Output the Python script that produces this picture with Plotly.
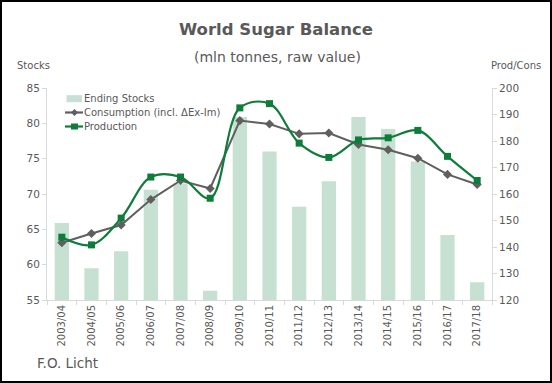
import plotly.graph_objects as go

seasons = ["2003/04", "2004/05", "2005/06", "2006/07", "2007/08", "2008/09", "2009/10",
           "2010/11", "2011/12", "2012/13", "2013/14", "2014/15", "2015/16", "2016/17", "2017/18"]
ending_stocks = [65.9, 59.5, 61.9, 70.6, 71.5, 56.3, 80.9, 76.0, 68.2, 71.8, 80.9, 79.2, 74.6, 64.2, 57.5]
consumption = [141.6, 145.1, 148.3, 157.9, 165.1, 162.1, 187.7, 186.4, 182.7, 183.0, 178.7, 176.7, 173.5, 167.4, 163.6]
production = [143.7, 140.8, 150.9, 166.4, 166.4, 158.4, 192.5, 194.1, 179.2, 173.8, 180.4, 181.2, 184.0, 174.2, 165.1]

FONT = "DejaVu Sans"
GRAY = "#595959"
AXIS = "#d9d9d9"
BAR_C = "#c6e0d2"
CONS_C = "#5f5f5f"
PROD_C = "#0e7d3a"

fig = go.Figure()
fig.add_trace(go.Bar(x=seasons, y=ending_stocks, name="Ending Stocks",
                     marker=dict(color=BAR_C, line=dict(width=0)), yaxis="y"))
fig.add_trace(go.Scatter(x=seasons, y=consumption, name="Consumption (incl. ΔEx-Im)",
                         mode="lines+markers", yaxis="y2",
                         line=dict(color=CONS_C, width=2),
                         marker=dict(symbol="diamond", size=7, color=CONS_C)))
fig.add_trace(go.Scatter(x=seasons, y=production, name="Production",
                         mode="lines+markers", yaxis="y2",
                         line=dict(color=PROD_C, width=2.2, shape="spline", smoothing=1.0),
                         marker=dict(symbol="square", size=7, color=PROD_C)))

W, H = 552, 383
L, R, T, B = 47, 60, 88, 83
pw, ph = W - L - R, H - T - B

def px(x):
    return (x - L) / pw

def py(y):
    return (H - B - y) / ph

fig.update_layout(
    width=W, height=H,
    margin=dict(l=L, r=R, t=T, b=B),
    paper_bgcolor="white", plot_bgcolor="white",
    font=dict(family=FONT, color=GRAY, size=10),
    bargap=0.52,
    showlegend=False,
    xaxis=dict(type="category", showline=True, linecolor=AXIS, linewidth=1,
               ticks="outside", ticklen=4, tickcolor=AXIS, tickson="boundaries",
               tickangle=-90, tickfont=dict(size=10, color=GRAY), showgrid=False,
               range=[-0.5, len(seasons) - 0.5]),
    yaxis=dict(range=[55, 85], dtick=5, showline=True, linecolor=AXIS, linewidth=1,
               ticks="outside", ticklen=4, tickcolor=AXIS, showgrid=False, zeroline=False,
               tickfont=dict(size=10.5, color=GRAY)),
    yaxis2=dict(range=[120, 200], dtick=10, overlaying="y", side="right",
                showline=True, linecolor=AXIS, linewidth=1,
                ticks="outside", ticklen=4, tickcolor=AXIS, showgrid=False, zeroline=False,
                tickfont=dict(size=10.5, color=GRAY)),
)

annos = [
    dict(text="<b>World Sugar Balance</b>", x=px(276), y=py(30), font=dict(size=16.5, color=GRAY)),
    dict(text="(mln tonnes, raw value)", x=px(277), y=py(57), font=dict(size=14, color=GRAY)),
    dict(text="Stocks", x=px(33), y=py(66), font=dict(size=10, color=GRAY)),
    dict(text="Prod/Cons", x=px(516), y=py(66), font=dict(size=10, color=GRAY)),
]
for a in annos:
    fig.add_annotation(xref="paper", yref="paper", showarrow=False,
                       xanchor="center", yanchor="middle", **a)
fig.add_annotation(text="F.O. Licht", xref="paper", yref="paper", showarrow=False,
                   x=px(35), y=py(363), xanchor="left", yanchor="middle",
                   font=dict(size=13.5, color=GRAY))

# custom legend (compact, like the original)
legend_items = [
    ("Ending Stocks", 98.7, "bar", BAR_C),
    ("Consumption (incl. ΔEx-Im)", 112.5, "diamond", CONS_C),
    ("Production", 126.5, "square", PROD_C),
]
for label, yc, kind, col in legend_items:
    fig.add_annotation(text=label, xref="paper", yref="paper", showarrow=False,
                       x=px(82), y=py(yc), xanchor="left", yanchor="middle",
                       font=dict(size=10, color=GRAY))
    if kind == "bar":
        fig.add_shape(type="rect", xref="paper", yref="paper",
                      x0=px(66.5), x1=px(82), y0=py(yc + 3.5), y1=py(yc - 3.5),
                      fillcolor=col, line=dict(width=0))
    else:
        fig.add_shape(type="line", xref="paper", yref="paper",
                      x0=px(65), x1=px(83), y0=py(yc), y1=py(yc),
                      line=dict(color=col, width=2.2))
        cx = 74.5
        if kind == "square":
            fig.add_shape(type="rect", xref="paper", yref="paper",
                          x0=px(cx - 3.5), x1=px(cx + 3.5), y0=py(yc + 3), y1=py(yc - 3),
                          fillcolor=col, line=dict(width=0))
        else:
            d = 3.5
            path = (f"M {px(cx - d)} {py(yc)} L {px(cx)} {py(yc - d)} "
                    f"L {px(cx + d)} {py(yc)} L {px(cx)} {py(yc + d)} Z")
            fig.add_shape(type="path", xref="paper", yref="paper", path=path,
                          fillcolor=col, line=dict(width=0))

fig.add_shape(type="rect", xref="paper", yref="paper",
              x0=px(1), x1=px(551), y0=py(382), y1=py(1),
              line=dict(color="black", width=2), fillcolor="rgba(0,0,0,0)")

fig.write_html("out.html", config={"displayModeBar": False},
               post_script="document.body.style.margin='0';document.body.style.overflow='hidden';")
